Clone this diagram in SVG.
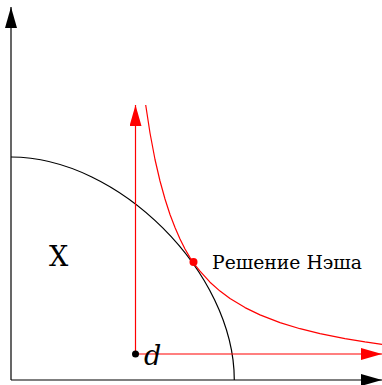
<svg xmlns="http://www.w3.org/2000/svg" width="382" height="385" viewBox="0 0 382 385">
<style>
.ax{stroke:#000;stroke-width:1.2;fill:none}
.rd{stroke:#ff0000;stroke-width:1.2;fill:none}
</style>
<defs>
<marker id="ahb" viewBox="0 0 21 12" refX="21" refY="6" markerWidth="21" markerHeight="12" markerUnits="userSpaceOnUse" orient="auto"><path d="M0,0 L21,6 L0,12 Z" fill="#000"/></marker>
<marker id="ahr" viewBox="0 0 21 12" refX="21" refY="6" markerWidth="21" markerHeight="12" markerUnits="userSpaceOnUse" orient="auto"><path d="M0,0 L21,6 L0,12 Z" fill="#ff0000"/></marker>
</defs>
<rect width="382" height="385" fill="#fff"/>
<g id="axes">
<line class="ax" x1="11" y1="380" x2="11" y2="7" marker-end="url(#ahb)"/>
<line class="ax" x1="11" y1="380" x2="382" y2="380" marker-end="url(#ahb)"/>
</g>
<g id="frontier">
<path class="ax" d="M11,157 C118.6,157 234.3,272.4 234.3,380"/>
</g>
<g id="connectors">
<line class="rd" x1="135.5" y1="354" x2="135.5" y2="105" marker-end="url(#ahr)"/>
<line class="rd" x1="135.5" y1="354" x2="382" y2="354" marker-end="url(#ahr)"/>
<polyline class="rd" stroke-linejoin="round" points="145.7,105 150,133 155,159.5 160,181 165,199 170,214.5 175,227.5 180,239 185,249 190,257.6 195,264.8 200,271.2 210,282.2 220,291.1 230,298.5 245,307.6 260,314.9 280,322.6 300,328.7 320,333.6 345,338.6 365,341.9 382,344.3"/>
</g>
<g id="label-X">
<text x="49" y="266" font-family="'DejaVu Serif', 'Liberation Serif', serif" font-size="27">X</text>
</g>
<g id="node-d">
<circle cx="135.5" cy="354" r="3.5" fill="#000"/>
<text x="144" y="365" font-family="'DejaVu Serif', 'Liberation Serif', serif" font-size="27" font-style="italic">d</text>
</g>
<g id="node-nash">
<circle cx="193.5" cy="262" r="4" fill="#ff0000"/>
<text x="212" y="269" font-family="'DejaVu Serif', 'Liberation Serif', serif" font-size="18" textLength="150" lengthAdjust="spacingAndGlyphs">Решение Нэша</text>
</g>
</svg>
